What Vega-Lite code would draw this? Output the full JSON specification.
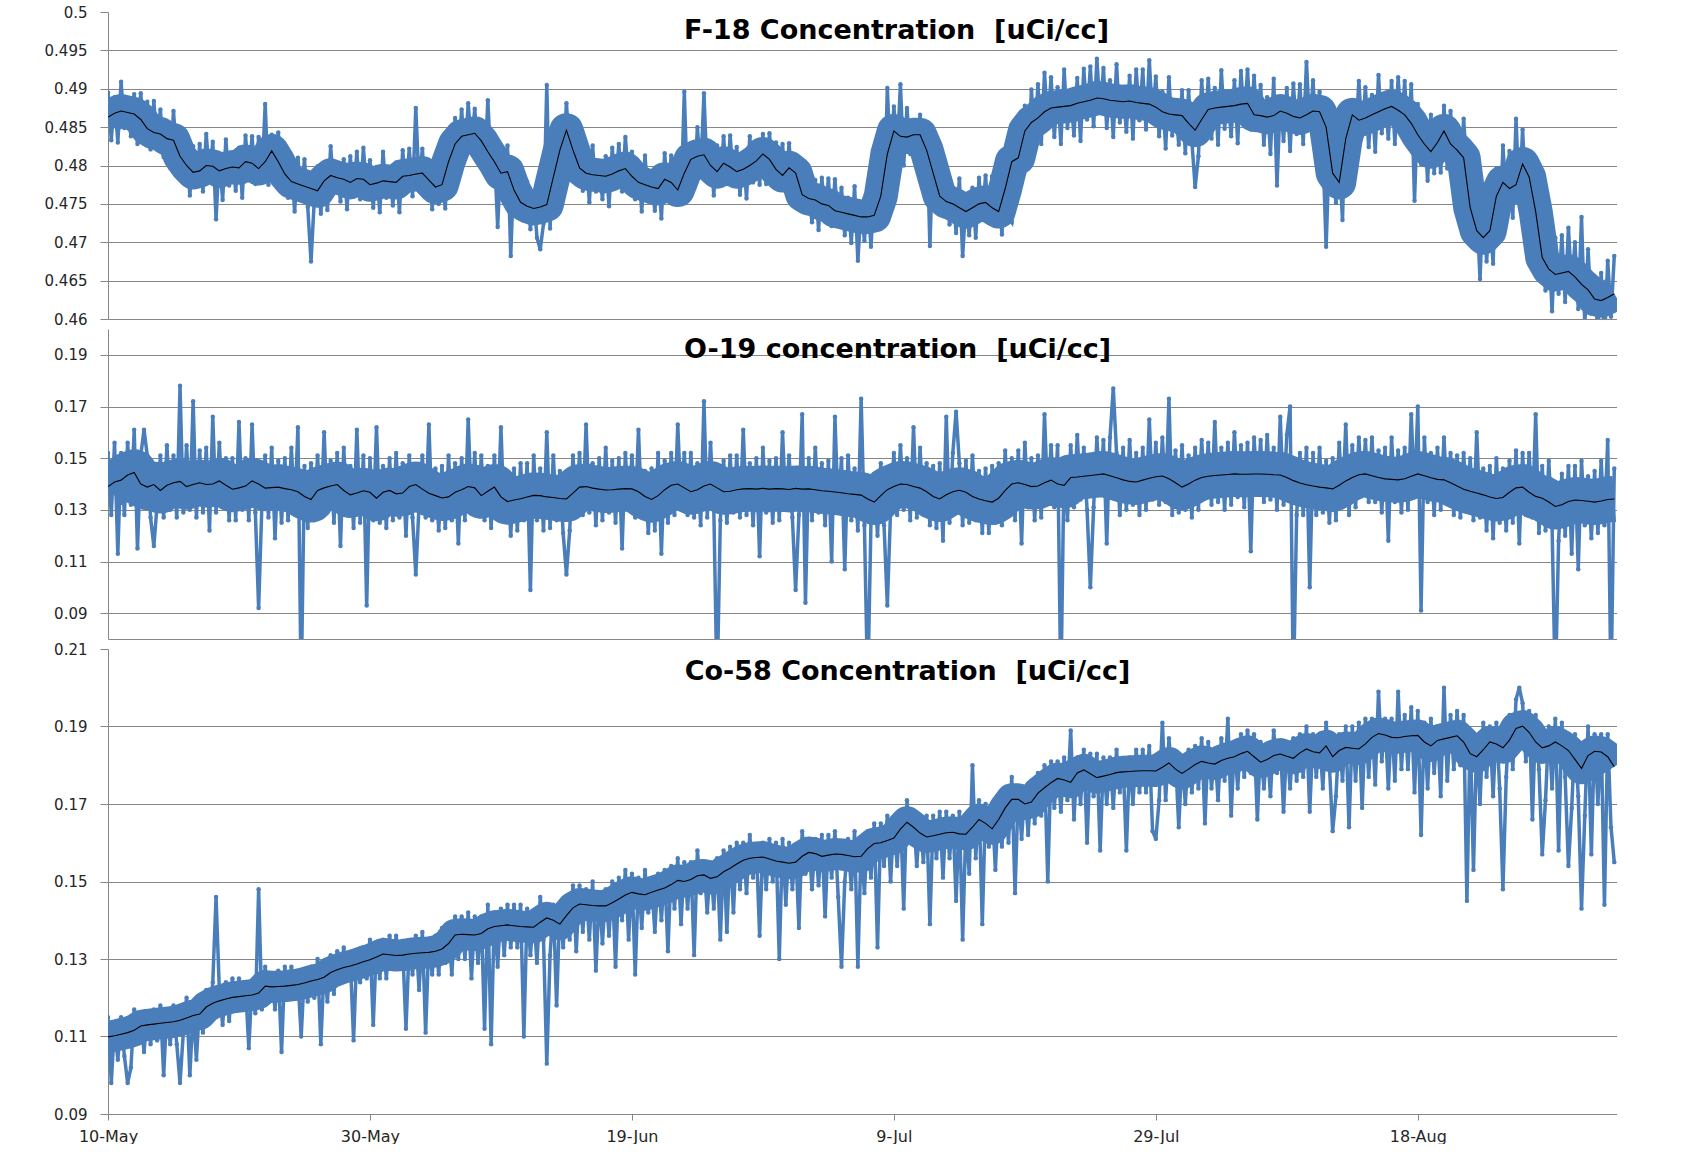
{
"$schema":"https://vega.github.io/schema/vega-lite/v6.json",
"background":"white",
"padding":{"left":44,"top":5,"right":0,"bottom":0},
"data":{"name":"d","format":{"parse":{"t":"date:'%Y-%m-%d %H'"}}},
"datasets":{"d":[
{"t":"2013-05-10 00","F":0.4895,"O":0.152,"C":0.115,"Fm":0.4863,"Om":0.139,"Cm":0.1099},
{"t":"2013-05-10 06","F":0.4833,"O":0.128,"C":0.098},
{"t":"2013-05-10 12","F":0.4889,"O":0.156,"C":0.113,"Fm":0.4868,"Om":0.1408,"Cm":0.1102},
{"t":"2013-05-10 18","F":0.483,"O":0.113,"C":0.104},
{"t":"2013-05-11 00","F":0.4909,"O":0.152,"C":0.115,"Fm":0.4871,"Om":0.1415,"Cm":0.1106},
{"t":"2013-05-11 06","F":0.4849,"O":0.128,"C":0.105},
{"t":"2013-05-11 12","F":0.4881,"O":0.156,"C":0.098,"Fm":0.4869,"Om":0.1435,"Cm":0.111},
{"t":"2013-05-11 18","F":0.4838,"O":0.132,"C":0.102},
{"t":"2013-05-12 00","F":0.4893,"O":0.161,"C":0.117,"Fm":0.4867,"Om":0.1445,"Cm":0.1116},
{"t":"2013-05-12 06","F":0.4828,"O":0.115,"C":0.109},
{"t":"2013-05-12 12","F":0.4894,"O":0.151,"C":0.115,"Fm":0.486,"Om":0.14,"Cm":0.1127},
{"t":"2013-05-12 18","F":0.4842,"O":0.161,"C":0.106},
{"t":"2013-05-13 00","F":0.4883,"O":0.151,"C":0.116,"Fm":0.4848,"Om":0.1388,"Cm":0.113},
{"t":"2013-05-13 06","F":0.4821,"O":0.127,"C":0.108},
{"t":"2013-05-13 12","F":0.4884,"O":0.116,"C":0.117,"Fm":0.4843,"Om":0.1398,"Cm":0.1132},
{"t":"2013-05-13 18","F":0.4828,"O":0.132,"C":0.109},
{"t":"2013-05-14 00","F":0.4873,"O":0.151,"C":0.118,"Fm":0.4841,"Om":0.1375,"Cm":0.1134},
{"t":"2013-05-14 06","F":0.4811,"O":0.127,"C":0.1},
{"t":"2013-05-14 12","F":0.4856,"O":0.155,"C":0.117,"Fm":0.4835,"Om":0.1395,"Cm":0.1136},
{"t":"2013-05-14 18","F":0.4797,"O":0.13,"C":0.108},
{"t":"2013-05-15 00","F":0.4871,"O":0.151,"C":0.118,"Fm":0.4833,"Om":0.1405,"Cm":0.1138},
{"t":"2013-05-15 06","F":0.4811,"O":0.127,"C":0.108},
{"t":"2013-05-15 12","F":0.4824,"O":0.178,"C":0.098,"Fm":0.4812,"Om":0.141,"Cm":0.1142},
{"t":"2013-05-15 18","F":0.4781,"O":0.129,"C":0.111},
{"t":"2013-05-16 00","F":0.4826,"O":0.155,"C":0.12,"Fm":0.48,"Om":0.139,"Cm":0.1148},
{"t":"2013-05-16 06","F":0.4761,"O":0.13,"C":0.1},
{"t":"2013-05-16 12","F":0.4825,"O":0.172,"C":0.117,"Fm":0.4791,"Om":0.1398,"Cm":0.1154},
{"t":"2013-05-16 18","F":0.4773,"O":0.127,"C":0.104},
{"t":"2013-05-17 00","F":0.4828,"O":0.153,"C":0.119,"Fm":0.4793,"Om":0.1405,"Cm":0.1158},
{"t":"2013-05-17 06","F":0.4766,"O":0.129,"C":0.111},
{"t":"2013-05-17 12","F":0.4841,"O":0.154,"C":0.122,"Fm":0.48,"Om":0.1398,"Cm":0.1176},
{"t":"2013-05-17 18","F":0.4785,"O":0.122,"C":0.114},
{"t":"2013-05-18 00","F":0.4831,"O":0.166,"C":0.124,"Fm":0.4799,"Om":0.14,"Cm":0.1186},
{"t":"2013-05-18 06","F":0.473,"O":0.129,"C":0.146},
{"t":"2013-05-18 12","F":0.4814,"O":0.156,"C":0.122,"Fm":0.4793,"Om":0.1412,"Cm":0.1192},
{"t":"2013-05-18 18","F":0.4755,"O":0.131,"C":0.113},
{"t":"2013-05-19 00","F":0.4834,"O":0.15,"C":0.124,"Fm":0.4796,"Om":0.1395,"Cm":0.1197},
{"t":"2013-05-19 06","F":0.4774,"O":0.126,"C":0.114},
{"t":"2013-05-19 12","F":0.481,"O":0.15,"C":0.125,"Fm":0.4798,"Om":0.138,"Cm":0.1201},
{"t":"2013-05-19 18","F":0.4767,"O":0.126,"C":0.117},
{"t":"2013-05-20 00","F":0.4823,"O":0.164,"C":0.125,"Fm":0.4797,"Om":0.1385,"Cm":0.1203},
{"t":"2013-05-20 06","F":0.4758,"O":0.13,"C":0.117},
{"t":"2013-05-20 12","F":0.4839,"O":0.15,"C":0.123,"Fm":0.4805,"Om":0.1392,"Cm":0.1205},
{"t":"2013-05-20 18","F":0.4787,"O":0.126,"C":0.107},
{"t":"2013-05-21 00","F":0.4838,"O":0.163,"C":0.124,"Fm":0.4803,"Om":0.1412,"Cm":0.1207},
{"t":"2013-05-21 06","F":0.4776,"O":0.129,"C":0.116},
{"t":"2013-05-21 12","F":0.4837,"O":0.092,"C":0.148,"Fm":0.4796,"Om":0.14,"Cm":0.1212},
{"t":"2013-05-21 18","F":0.4781,"O":0.132,"C":0.117},
{"t":"2013-05-22 00","F":0.488,"O":0.151,"C":0.128,"Fm":0.4805,"Om":0.1384,"Cm":0.123},
{"t":"2013-05-22 06","F":0.4775,"O":0.127,"C":0.119},
{"t":"2013-05-22 12","F":0.484,"O":0.154,"C":0.126,"Fm":0.4819,"Om":0.1386,"Cm":0.1228},
{"t":"2013-05-22 18","F":0.4781,"O":0.119,"C":0.117},
{"t":"2013-05-23 00","F":0.4843,"O":0.149,"C":0.127,"Fm":0.4805,"Om":0.1388,"Cm":0.1229},
{"t":"2013-05-23 06","F":0.4783,"O":0.125,"C":0.106},
{"t":"2013-05-23 12","F":0.4801,"O":0.15,"C":0.128,"Fm":0.4789,"Om":0.1382,"Cm":0.123},
{"t":"2013-05-23 18","F":0.4758,"O":0.126,"C":0.12},
{"t":"2013-05-24 00","F":0.4805,"O":0.154,"C":0.128,"Fm":0.4779,"Om":0.1378,"Cm":0.1232},
{"t":"2013-05-24 06","F":0.474,"O":0.129,"C":0.12},
{"t":"2013-05-24 12","F":0.481,"O":0.162,"C":0.125,"Fm":0.4776,"Om":0.137,"Cm":0.1234},
{"t":"2013-05-24 18","F":0.4758,"O":0.06,"C":0.11},
{"t":"2013-05-25 00","F":0.4808,"O":0.147,"C":0.127,"Fm":0.4773,"Om":0.1352,"Cm":0.1238},
{"t":"2013-05-25 06","F":0.4746,"O":0.123,"C":0.119},
{"t":"2013-05-25 12","F":0.4675,"O":0.148,"C":0.128,"Fm":0.477,"Om":0.134,"Cm":0.1243},
{"t":"2013-05-25 18","F":0.4755,"O":0.126,"C":0.12},
{"t":"2013-05-26 00","F":0.4799,"O":0.151,"C":0.13,"Fm":0.4767,"Om":0.1375,"Cm":0.1247},
{"t":"2013-05-26 06","F":0.4737,"O":0.127,"C":0.108},
{"t":"2013-05-26 12","F":0.4801,"O":0.16,"C":0.128,"Fm":0.478,"Om":0.1385,"Cm":0.1253},
{"t":"2013-05-26 18","F":0.4742,"O":0.129,"C":0.119},
{"t":"2013-05-27 00","F":0.4825,"O":0.149,"C":0.131,"Fm":0.4787,"Om":0.1392,"Cm":0.1265},
{"t":"2013-05-27 06","F":0.4765,"O":0.125,"C":0.121},
{"t":"2013-05-27 12","F":0.4796,"O":0.152,"C":0.132,"Fm":0.4784,"Om":0.1398,"Cm":0.1272},
{"t":"2013-05-27 18","F":0.4753,"O":0.116,"C":0.124},
{"t":"2013-05-28 00","F":0.4808,"O":0.154,"C":0.133,"Fm":0.4782,"Om":0.1375,"Cm":0.1278},
{"t":"2013-05-28 06","F":0.4743,"O":0.129,"C":0.125},
{"t":"2013-05-28 12","F":0.4812,"O":0.147,"C":0.13,"Fm":0.4778,"Om":0.1358,"Cm":0.1282},
{"t":"2013-05-28 18","F":0.476,"O":0.123,"C":0.109},
{"t":"2013-05-29 00","F":0.4818,"O":0.161,"C":0.132,"Fm":0.4783,"Om":0.1365,"Cm":0.1287},
{"t":"2013-05-29 06","F":0.4756,"O":0.125,"C":0.124},
{"t":"2013-05-29 12","F":0.4823,"O":0.151,"C":0.133,"Fm":0.4782,"Om":0.1374,"Cm":0.1293},
{"t":"2013-05-29 18","F":0.4767,"O":0.093,"C":0.125},
{"t":"2013-05-30 00","F":0.4807,"O":0.15,"C":0.135,"Fm":0.4775,"Om":0.1368,"Cm":0.1298},
{"t":"2013-05-30 06","F":0.4745,"O":0.126,"C":0.113},
{"t":"2013-05-30 12","F":0.4798,"O":0.162,"C":0.134,"Fm":0.4777,"Om":0.1345,"Cm":0.1305},
{"t":"2013-05-30 18","F":0.4739,"O":0.125,"C":0.125},
{"t":"2013-05-31 00","F":0.4818,"O":0.147,"C":0.135,"Fm":0.478,"Om":0.1368,"Cm":0.1313},
{"t":"2013-05-31 06","F":0.4758,"O":0.123,"C":0.125},
{"t":"2013-05-31 12","F":0.4791,"O":0.15,"C":0.136,"Fm":0.4779,"Om":0.1375,"Cm":0.1311},
{"t":"2013-05-31 18","F":0.4748,"O":0.126,"C":0.128},
{"t":"2013-06-01 00","F":0.4804,"O":0.152,"C":0.136,"Fm":0.4778,"Om":0.1362,"Cm":0.1309},
{"t":"2013-06-01 06","F":0.4739,"O":0.127,"C":0.128},
{"t":"2013-06-01 12","F":0.482,"O":0.148,"C":0.133,"Fm":0.4786,"Om":0.1365,"Cm":0.131},
{"t":"2013-06-01 18","F":0.4768,"O":0.12,"C":0.112},
{"t":"2013-06-02 00","F":0.4822,"O":0.151,"C":0.134,"Fm":0.4787,"Om":0.139,"Cm":0.1313},
{"t":"2013-06-02 06","F":0.476,"O":0.127,"C":0.126},
{"t":"2013-06-02 12","F":0.4875,"O":0.105,"C":0.136,"Fm":0.4789,"Om":0.1398,"Cm":0.1315},
{"t":"2013-06-02 18","F":0.4774,"O":0.132,"C":0.122},
{"t":"2013-06-03 00","F":0.4822,"O":0.151,"C":0.137,"Fm":0.479,"Om":0.138,"Cm":0.1316},
{"t":"2013-06-03 06","F":0.476,"O":0.127,"C":0.111},
{"t":"2013-06-03 12","F":0.4802,"O":0.163,"C":0.135,"Fm":0.4781,"Om":0.1364,"Cm":0.1317},
{"t":"2013-06-03 18","F":0.4743,"O":0.126,"C":0.126},
{"t":"2013-06-04 00","F":0.481,"O":0.146,"C":0.136,"Fm":0.4772,"Om":0.1355,"Cm":0.132},
{"t":"2013-06-04 06","F":0.475,"O":0.122,"C":0.126},
{"t":"2013-06-04 12","F":0.4787,"O":0.147,"C":0.138,"Fm":0.4775,"Om":0.1346,"Cm":0.1326},
{"t":"2013-06-04 18","F":0.4744,"O":0.123,"C":0.129},
{"t":"2013-06-05 00","F":0.4831,"O":0.151,"C":0.138,"Fm":0.4805,"Om":0.135,"Cm":0.134},
{"t":"2013-06-05 06","F":0.4766,"O":0.126,"C":0.126},
{"t":"2013-06-05 12","F":0.4862,"O":0.148,"C":0.141,"Fm":0.4828,"Om":0.1368,"Cm":0.1362},
{"t":"2013-06-05 18","F":0.481,"O":0.117,"C":0.13},
{"t":"2013-06-06 00","F":0.4873,"O":0.15,"C":0.141,"Fm":0.4838,"Om":0.1378,"Cm":0.1364},
{"t":"2013-06-06 06","F":0.4811,"O":0.126,"C":0.13},
{"t":"2013-06-06 12","F":0.4881,"O":0.165,"C":0.142,"Fm":0.484,"Om":0.139,"Cm":0.1363},
{"t":"2013-06-06 18","F":0.4825,"O":0.131,"C":0.125},
{"t":"2013-06-07 00","F":0.4874,"O":0.152,"C":0.141,"Fm":0.4842,"Om":0.1385,"Cm":0.1362},
{"t":"2013-06-07 06","F":0.4812,"O":0.128,"C":0.129},
{"t":"2013-06-07 12","F":0.4853,"O":0.151,"C":0.141,"Fm":0.4832,"Om":0.1355,"Cm":0.1366},
{"t":"2013-06-07 18","F":0.4794,"O":0.126,"C":0.112},
{"t":"2013-06-08 00","F":0.4885,"O":0.147,"C":0.144,"Fm":0.4818,"Om":0.1372,"Cm":0.1378},
{"t":"2013-06-08 06","F":0.4796,"O":0.123,"C":0.108},
{"t":"2013-06-08 12","F":0.4817,"O":0.151,"C":0.142,"Fm":0.4805,"Om":0.1388,"Cm":0.1384},
{"t":"2013-06-08 18","F":0.472,"O":0.127,"C":0.128},
{"t":"2013-06-09 00","F":0.4816,"O":0.162,"C":0.143,"Fm":0.479,"Om":0.135,"Cm":0.1386},
{"t":"2013-06-09 06","F":0.4751,"O":0.126,"C":0.131},
{"t":"2013-06-09 12","F":0.4826,"O":0.144,"C":0.144,"Fm":0.4792,"Om":0.1332,"Cm":0.1388},
{"t":"2013-06-09 18","F":0.4682,"O":0.12,"C":0.133},
{"t":"2013-06-10 00","F":0.4803,"O":0.146,"C":0.144,"Fm":0.4768,"Om":0.1338,"Cm":0.1386},
{"t":"2013-06-10 06","F":0.4741,"O":0.122,"C":0.133},
{"t":"2013-06-10 12","F":0.4793,"O":0.148,"C":0.144,"Fm":0.4752,"Om":0.1343,"Cm":0.1384},
{"t":"2013-06-10 18","F":0.4737,"O":0.126,"C":0.11},
{"t":"2013-06-11 00","F":0.4779,"O":0.148,"C":0.143,"Fm":0.4747,"Om":0.135,"Cm":0.1383},
{"t":"2013-06-11 06","F":0.4717,"O":0.099,"C":0.131},
{"t":"2013-06-11 12","F":0.4765,"O":0.151,"C":0.142,"Fm":0.4744,"Om":0.1356,"Cm":0.1382},
{"t":"2013-06-11 18","F":0.4706,"O":0.126,"C":0.129},
{"t":"2013-06-12 00","F":0.4691,"O":0.146,"C":0.146,"Fm":0.4746,"Om":0.1355,"Cm":0.1395},
{"t":"2013-06-12 06","F":0.4724,"O":0.122,"C":0.135},
{"t":"2013-06-12 12","F":0.4905,"O":0.16,"C":0.103,"Fm":0.4749,"Om":0.135,"Cm":0.1406},
{"t":"2013-06-12 18","F":0.4718,"O":0.123,"C":0.131},
{"t":"2013-06-13 00","F":0.4811,"O":0.151,"C":0.144,"Fm":0.4785,"Om":0.1348,"Cm":0.14},
{"t":"2013-06-13 06","F":0.4746,"O":0.126,"C":0.118},
{"t":"2013-06-13 12","F":0.4854,"O":0.145,"C":0.144,"Fm":0.482,"Om":0.1344,"Cm":0.139},
{"t":"2013-06-13 18","F":0.4802,"O":0.121,"C":0.133},
{"t":"2013-06-14 00","F":0.4881,"O":0.105,"C":0.146,"Fm":0.4846,"Om":0.1342,"Cm":0.1412},
{"t":"2013-06-14 06","F":0.4819,"O":0.122,"C":0.135},
{"t":"2013-06-14 12","F":0.4861,"O":0.151,"C":0.149,"Fm":0.482,"Om":0.1365,"Cm":0.1432},
{"t":"2013-06-14 18","F":0.4805,"O":0.129,"C":0.132},
{"t":"2013-06-15 00","F":0.4829,"O":0.152,"C":0.149,"Fm":0.4797,"Om":0.1388,"Cm":0.1442},
{"t":"2013-06-15 06","F":0.4767,"O":0.128,"C":0.137},
{"t":"2013-06-15 12","F":0.4811,"O":0.163,"C":0.148,"Fm":0.479,"Om":0.139,"Cm":0.144},
{"t":"2013-06-15 18","F":0.4752,"O":0.129,"C":0.135},
{"t":"2013-06-16 00","F":0.4826,"O":0.148,"C":0.15,"Fm":0.4788,"Om":0.1384,"Cm":0.1438},
{"t":"2013-06-16 06","F":0.4766,"O":0.124,"C":0.127},
{"t":"2013-06-16 12","F":0.4799,"O":0.15,"C":0.147,"Fm":0.4787,"Om":0.138,"Cm":0.1437},
{"t":"2013-06-16 18","F":0.4756,"O":0.126,"C":0.134},
{"t":"2013-06-17 00","F":0.4812,"O":0.154,"C":0.148,"Fm":0.4786,"Om":0.1377,"Cm":0.1437},
{"t":"2013-06-17 06","F":0.4747,"O":0.129,"C":0.136},
{"t":"2013-06-17 12","F":0.4823,"O":0.149,"C":0.15,"Fm":0.4789,"Om":0.1378,"Cm":0.1445},
{"t":"2013-06-17 18","F":0.4771,"O":0.125,"C":0.128},
{"t":"2013-06-18 00","F":0.4828,"O":0.15,"C":0.151,"Fm":0.4793,"Om":0.138,"Cm":0.1455},
{"t":"2013-06-18 06","F":0.4766,"O":0.115,"C":0.14},
{"t":"2013-06-18 12","F":0.4837,"O":0.152,"C":0.153,"Fm":0.4796,"Om":0.1382,"Cm":0.1465},
{"t":"2013-06-18 18","F":0.4781,"O":0.13,"C":0.135},
{"t":"2013-06-19 00","F":0.4818,"O":0.151,"C":0.152,"Fm":0.4786,"Om":0.1381,"Cm":0.1472},
{"t":"2013-06-19 06","F":0.4756,"O":0.127,"C":0.126},
{"t":"2013-06-19 12","F":0.4799,"O":0.161,"C":0.151,"Fm":0.4778,"Om":0.137,"Cm":0.1468},
{"t":"2013-06-19 18","F":0.474,"O":0.127,"C":0.138},
{"t":"2013-06-20 00","F":0.4813,"O":0.145,"C":0.153,"Fm":0.4775,"Om":0.1352,"Cm":0.1466},
{"t":"2013-06-20 06","F":0.4753,"O":0.121,"C":0.142},
{"t":"2013-06-20 12","F":0.4784,"O":0.146,"C":0.15,"Fm":0.4772,"Om":0.134,"Cm":0.1472},
{"t":"2013-06-20 18","F":0.4741,"O":0.122,"C":0.137},
{"t":"2013-06-21 00","F":0.4796,"O":0.152,"C":0.152,"Fm":0.477,"Om":0.1355,"Cm":0.1478},
{"t":"2013-06-21 06","F":0.4731,"O":0.113,"C":0.14},
{"t":"2013-06-21 12","F":0.4816,"O":0.149,"C":0.153,"Fm":0.4782,"Om":0.1378,"Cm":0.1483},
{"t":"2013-06-21 18","F":0.4764,"O":0.125,"C":0.132},
{"t":"2013-06-22 00","F":0.4813,"O":0.152,"C":0.154,"Fm":0.4778,"Om":0.1395,"Cm":0.1492},
{"t":"2013-06-22 06","F":0.4751,"O":0.128,"C":0.143},
{"t":"2013-06-22 12","F":0.4809,"O":0.163,"C":0.156,"Fm":0.4768,"Om":0.14,"Cm":0.1503},
{"t":"2013-06-22 18","F":0.4753,"O":0.132,"C":0.139},
{"t":"2013-06-23 00","F":0.4896,"O":0.152,"C":0.155,"Fm":0.479,"Om":0.1385,"Cm":0.15},
{"t":"2013-06-23 06","F":0.476,"O":0.128,"C":0.143},
{"t":"2013-06-23 12","F":0.4829,"O":0.152,"C":0.155,"Fm":0.4808,"Om":0.137,"Cm":0.1505},
{"t":"2013-06-23 18","F":0.477,"O":0.127,"C":0.131},
{"t":"2013-06-24 00","F":0.485,"O":0.148,"C":0.158,"Fm":0.4812,"Om":0.1378,"Cm":0.1515},
{"t":"2013-06-24 06","F":0.479,"O":0.124,"C":0.147},
{"t":"2013-06-24 12","F":0.4894,"O":0.172,"C":0.155,"Fm":0.4814,"Om":0.1392,"Cm":0.1517},
{"t":"2013-06-24 18","F":0.4783,"O":0.127,"C":0.142},
{"t":"2013-06-25 00","F":0.4826,"O":0.156,"C":0.155,"Fm":0.48,"Om":0.14,"Cm":0.1508},
{"t":"2013-06-25 06","F":0.4761,"O":0.131,"C":0.143},
{"t":"2013-06-25 12","F":0.4826,"O":0.06,"C":0.156,"Fm":0.4792,"Om":0.1385,"Cm":0.1512},
{"t":"2013-06-25 18","F":0.4774,"O":0.126,"C":0.135},
{"t":"2013-06-26 00","F":0.4838,"O":0.149,"C":0.158,"Fm":0.4803,"Om":0.137,"Cm":0.1525},
{"t":"2013-06-26 06","F":0.4776,"O":0.125,"C":0.137},
{"t":"2013-06-26 12","F":0.4839,"O":0.151,"C":0.159,"Fm":0.4798,"Om":0.1372,"Cm":0.1534},
{"t":"2013-06-26 18","F":0.4783,"O":0.129,"C":0.142},
{"t":"2013-06-27 00","F":0.4824,"O":0.151,"C":0.16,"Fm":0.4792,"Om":0.1378,"Cm":0.1545},
{"t":"2013-06-27 06","F":0.4762,"O":0.127,"C":0.148},
{"t":"2013-06-27 12","F":0.4816,"O":0.161,"C":0.16,"Fm":0.4795,"Om":0.1381,"Cm":0.1555},
{"t":"2013-06-27 18","F":0.4757,"O":0.128,"C":0.147},
{"t":"2013-06-28 00","F":0.4838,"O":0.148,"C":0.162,"Fm":0.48,"Om":0.1382,"Cm":0.156},
{"t":"2013-06-28 06","F":0.4778,"O":0.124,"C":0.151},
{"t":"2013-06-28 12","F":0.4818,"O":0.15,"C":0.159,"Fm":0.4806,"Om":0.138,"Cm":0.1562},
{"t":"2013-06-28 18","F":0.4775,"O":0.112,"C":0.136},
{"t":"2013-06-29 00","F":0.4841,"O":0.154,"C":0.16,"Fm":0.4815,"Om":0.1383,"Cm":0.1563},
{"t":"2013-06-29 06","F":0.4776,"O":0.129,"C":0.148},
{"t":"2013-06-29 12","F":0.4842,"O":0.149,"C":0.161,"Fm":0.4808,"Om":0.138,"Cm":0.1558},
{"t":"2013-06-29 18","F":0.479,"O":0.125,"C":0.15},
{"t":"2013-06-30 00","F":0.483,"O":0.15,"C":0.16,"Fm":0.4795,"Om":0.1382,"Cm":0.1553},
{"t":"2013-06-30 06","F":0.4768,"O":0.126,"C":0.13},
{"t":"2013-06-30 12","F":0.4828,"O":0.16,"C":0.161,"Fm":0.4787,"Om":0.1381,"Cm":0.155},
{"t":"2013-06-30 18","F":0.4772,"O":0.13,"C":0.144},
{"t":"2013-07-01 00","F":0.4829,"O":0.151,"C":0.16,"Fm":0.4797,"Om":0.1379,"Cm":0.1547},
{"t":"2013-07-01 06","F":0.4767,"O":0.127,"C":0.148},
{"t":"2013-07-01 12","F":0.4811,"O":0.099,"C":0.159,"Fm":0.479,"Om":0.1383,"Cm":0.155},
{"t":"2013-07-01 18","F":0.4752,"O":0.128,"C":0.138},
{"t":"2013-07-02 00","F":0.48,"O":0.167,"C":0.163,"Fm":0.4762,"Om":0.138,"Cm":0.1565},
{"t":"2013-07-02 06","F":0.474,"O":0.094,"C":0.152},
{"t":"2013-07-02 12","F":0.4769,"O":0.15,"C":0.161,"Fm":0.4757,"Om":0.1381,"Cm":0.1575},
{"t":"2013-07-02 18","F":0.4726,"O":0.126,"C":0.148},
{"t":"2013-07-03 00","F":0.4781,"O":0.154,"C":0.161,"Fm":0.4755,"Om":0.1378,"Cm":0.1572},
{"t":"2013-07-03 06","F":0.4716,"O":0.129,"C":0.149},
{"t":"2013-07-03 12","F":0.4784,"O":0.148,"C":0.162,"Fm":0.475,"Om":0.1374,"Cm":0.1565},
{"t":"2013-07-03 18","F":0.4732,"O":0.124,"C":0.141},
{"t":"2013-07-04 00","F":0.4783,"O":0.149,"C":0.162,"Fm":0.4748,"Om":0.1372,"Cm":0.1568},
{"t":"2013-07-04 06","F":0.4721,"O":0.11,"C":0.151},
{"t":"2013-07-04 12","F":0.4782,"O":0.166,"C":0.163,"Fm":0.4741,"Om":0.1369,"Cm":0.1571},
{"t":"2013-07-04 18","F":0.4726,"O":0.129,"C":0.146},
{"t":"2013-07-05 00","F":0.4771,"O":0.15,"C":0.128,"Fm":0.4739,"Om":0.1366,"Cm":0.157},
{"t":"2013-07-05 06","F":0.4709,"O":0.107,"C":0.15},
{"t":"2013-07-05 12","F":0.4758,"O":0.151,"C":0.161,"Fm":0.4737,"Om":0.1362,"Cm":0.1567},
{"t":"2013-07-05 18","F":0.4699,"O":0.126,"C":0.148},
{"t":"2013-07-06 00","F":0.4773,"O":0.146,"C":0.163,"Fm":0.4735,"Om":0.136,"Cm":0.1564},
{"t":"2013-07-06 06","F":0.4676,"O":0.122,"C":0.128},
{"t":"2013-07-06 12","F":0.4745,"O":0.173,"C":0.16,"Fm":0.4733,"Om":0.1357,"Cm":0.1565},
{"t":"2013-07-06 18","F":0.4702,"O":0.124,"C":0.147},
{"t":"2013-07-07 00","F":0.4759,"O":0.06,"C":0.163,"Fm":0.4733,"Om":0.1342,"Cm":0.1585},
{"t":"2013-07-07 06","F":0.4694,"O":0.125,"C":0.151},
{"t":"2013-07-07 12","F":0.4769,"O":0.144,"C":0.165,"Fm":0.4735,"Om":0.133,"Cm":0.1598},
{"t":"2013-07-07 18","F":0.4717,"O":0.12,"C":0.133},
{"t":"2013-07-08 00","F":0.4795,"O":0.148,"C":0.165,"Fm":0.476,"Om":0.1355,"Cm":0.16},
{"t":"2013-07-08 06","F":0.4733,"O":0.124,"C":0.154},
{"t":"2013-07-08 12","F":0.4901,"O":0.093,"C":0.167,"Fm":0.4815,"Om":0.1378,"Cm":0.1606},
{"t":"2013-07-08 18","F":0.48,"O":0.13,"C":0.15},
{"t":"2013-07-09 00","F":0.4877,"O":0.152,"C":0.166,"Fm":0.4845,"Om":0.139,"Cm":0.1612},
{"t":"2013-07-09 06","F":0.4815,"O":0.128,"C":0.154},
{"t":"2013-07-09 12","F":0.4906,"O":0.155,"C":0.168,"Fm":0.4838,"Om":0.14,"Cm":0.1635},
{"t":"2013-07-09 18","F":0.48,"O":0.13,"C":0.143},
{"t":"2013-07-10 00","F":0.4875,"O":0.15,"C":0.171,"Fm":0.4837,"Om":0.1398,"Cm":0.1653},
{"t":"2013-07-10 06","F":0.4815,"O":0.126,"C":0.16},
{"t":"2013-07-10 12","F":0.4852,"O":0.162,"C":0.167,"Fm":0.484,"Om":0.139,"Cm":0.164},
{"t":"2013-07-10 18","F":0.4809,"O":0.127,"C":0.154},
{"t":"2013-07-11 00","F":0.4866,"O":0.154,"C":0.167,"Fm":0.484,"Om":0.1384,"Cm":0.1625},
{"t":"2013-07-11 06","F":0.4801,"O":0.129,"C":0.155},
{"t":"2013-07-11 12","F":0.4854,"O":0.148,"C":0.167,"Fm":0.482,"Om":0.137,"Cm":0.1615},
{"t":"2013-07-11 18","F":0.4695,"O":0.124,"C":0.139},
{"t":"2013-07-12 00","F":0.4825,"O":0.147,"C":0.167,"Fm":0.479,"Om":0.1352,"Cm":0.1618},
{"t":"2013-07-12 06","F":0.4763,"O":0.123,"C":0.156},
{"t":"2013-07-12 12","F":0.4801,"O":0.148,"C":0.168,"Fm":0.476,"Om":0.1342,"Cm":0.1622},
{"t":"2013-07-12 18","F":0.4745,"O":0.118,"C":0.151},
{"t":"2013-07-13 00","F":0.4785,"O":0.166,"C":0.168,"Fm":0.4753,"Om":0.1358,"Cm":0.1626},
{"t":"2013-07-13 06","F":0.4723,"O":0.125,"C":0.156},
{"t":"2013-07-13 12","F":0.4771,"O":0.152,"C":0.167,"Fm":0.475,"Om":0.137,"Cm":0.1627},
{"t":"2013-07-13 18","F":0.4712,"O":0.168,"C":0.145},
{"t":"2013-07-14 00","F":0.4783,"O":0.148,"C":0.168,"Fm":0.4745,"Om":0.1376,"Cm":0.1623},
{"t":"2013-07-14 06","F":0.4682,"O":0.124,"C":0.135},
{"t":"2013-07-14 12","F":0.4752,"O":0.149,"C":0.165,"Fm":0.474,"Om":0.1368,"Cm":0.1622},
{"t":"2013-07-14 18","F":0.4709,"O":0.125,"C":0.152},
{"t":"2013-07-15 00","F":0.4771,"O":0.151,"C":0.18,"Fm":0.4745,"Om":0.1352,"Cm":0.164},
{"t":"2013-07-15 06","F":0.4706,"O":0.126,"C":0.156},
{"t":"2013-07-15 12","F":0.4784,"O":0.145,"C":0.171,"Fm":0.475,"Om":0.1342,"Cm":0.166},
{"t":"2013-07-15 18","F":0.4732,"O":0.121,"C":0.139},
{"t":"2013-07-16 00","F":0.4787,"O":0.146,"C":0.17,"Fm":0.4752,"Om":0.1335,"Cm":0.165},
{"t":"2013-07-16 06","F":0.4725,"O":0.121,"C":0.159},
{"t":"2013-07-16 12","F":0.4786,"O":0.147,"C":0.17,"Fm":0.4745,"Om":0.133,"Cm":0.1636},
{"t":"2013-07-16 18","F":0.473,"O":0.125,"C":0.153},
{"t":"2013-07-17 00","F":0.4772,"O":0.148,"C":0.171,"Fm":0.474,"Om":0.1345,"Cm":0.166},
{"t":"2013-07-17 06","F":0.471,"O":0.124,"C":0.159},
{"t":"2013-07-17 12","F":0.4791,"O":0.153,"C":0.173,"Fm":0.477,"Om":0.1375,"Cm":0.169},
{"t":"2013-07-17 18","F":0.4732,"O":0.128,"C":0.16},
{"t":"2013-07-18 00","F":0.4726,"O":0.15,"C":0.177,"Fm":0.4805,"Om":0.14,"Cm":0.1712},
{"t":"2013-07-18 06","F":0.4783,"O":0.126,"C":0.147},
{"t":"2013-07-18 12","F":0.4822,"O":0.153,"C":0.174,"Fm":0.481,"Om":0.1405,"Cm":0.1712},
{"t":"2013-07-18 18","F":0.4779,"O":0.117,"C":0.161},
{"t":"2013-07-19 00","F":0.4878,"O":0.156,"C":0.174,"Fm":0.4845,"Om":0.1398,"Cm":0.17},
{"t":"2013-07-19 06","F":0.4796,"O":0.131,"C":0.162},
{"t":"2013-07-19 12","F":0.4899,"O":0.15,"C":0.176,"Fm":0.4856,"Om":0.139,"Cm":0.1705},
{"t":"2013-07-19 18","F":0.4833,"O":0.126,"C":0.165},
{"t":"2013-07-20 00","F":0.4906,"O":0.151,"C":0.178,"Fm":0.4862,"Om":0.1392,"Cm":0.1728},
{"t":"2013-07-20 06","F":0.4828,"O":0.127,"C":0.167},
{"t":"2013-07-20 12","F":0.4921,"O":0.167,"C":0.18,"Fm":0.487,"Om":0.1405,"Cm":0.1742},
{"t":"2013-07-20 18","F":0.4851,"O":0.133,"C":0.15},
{"t":"2013-07-21 00","F":0.4915,"O":0.155,"C":0.181,"Fm":0.4875,"Om":0.1415,"Cm":0.1755},
{"t":"2013-07-21 06","F":0.4837,"O":0.131,"C":0.169},
{"t":"2013-07-21 12","F":0.4902,"O":0.155,"C":0.181,"Fm":0.4876,"Om":0.14,"Cm":0.1766},
{"t":"2013-07-21 18","F":0.4828,"O":0.06,"C":0.168},
{"t":"2013-07-22 00","F":0.4925,"O":0.15,"C":0.182,"Fm":0.4877,"Om":0.1395,"Cm":0.1762},
{"t":"2013-07-22 06","F":0.4849,"O":0.126,"C":0.171},
{"t":"2013-07-22 12","F":0.4893,"O":0.155,"C":0.189,"Fm":0.4878,"Om":0.1425,"Cm":0.1756},
{"t":"2013-07-22 18","F":0.4839,"O":0.131,"C":0.166},
{"t":"2013-07-23 00","F":0.4914,"O":0.159,"C":0.182,"Fm":0.4881,"Om":0.1427,"Cm":0.178},
{"t":"2013-07-23 06","F":0.4832,"O":0.134,"C":0.17},
{"t":"2013-07-23 12","F":0.4926,"O":0.154,"C":0.184,"Fm":0.4883,"Om":0.143,"Cm":0.1788},
{"t":"2013-07-23 18","F":0.486,"O":0.13,"C":0.16},
{"t":"2013-07-24 00","F":0.4929,"O":0.1,"C":0.183,"Fm":0.4885,"Om":0.1433,"Cm":0.1778},
{"t":"2013-07-24 06","F":0.4851,"O":0.131,"C":0.172},
{"t":"2013-07-24 12","F":0.4939,"O":0.158,"C":0.183,"Fm":0.4888,"Om":0.1436,"Cm":0.1768},
{"t":"2013-07-24 18","F":0.4869,"O":0.136,"C":0.158},
{"t":"2013-07-25 00","F":0.4927,"O":0.157,"C":0.182,"Fm":0.4887,"Om":0.1439,"Cm":0.1772},
{"t":"2013-07-25 06","F":0.4849,"O":0.117,"C":0.17},
{"t":"2013-07-25 12","F":0.4911,"O":0.158,"C":0.182,"Fm":0.4885,"Om":0.1432,"Cm":0.1776},
{"t":"2013-07-25 18","F":0.4837,"O":0.177,"C":0.169},
{"t":"2013-07-26 00","F":0.4932,"O":0.152,"C":0.184,"Fm":0.4884,"Om":0.1424,"Cm":0.1781},
{"t":"2013-07-26 06","F":0.4856,"O":0.128,"C":0.173},
{"t":"2013-07-26 12","F":0.4898,"O":0.154,"C":0.181,"Fm":0.4883,"Om":0.1416,"Cm":0.1783},
{"t":"2013-07-26 18","F":0.4844,"O":0.13,"C":0.158},
{"t":"2013-07-27 00","F":0.4917,"O":0.157,"C":0.182,"Fm":0.4884,"Om":0.141,"Cm":0.1784},
{"t":"2013-07-27 06","F":0.4835,"O":0.132,"C":0.17},
{"t":"2013-07-27 12","F":0.4925,"O":0.152,"C":0.184,"Fm":0.4882,"Om":0.1408,"Cm":0.1785},
{"t":"2013-07-27 18","F":0.4859,"O":0.128,"C":0.173},
{"t":"2013-07-28 00","F":0.4925,"O":0.154,"C":0.184,"Fm":0.4881,"Om":0.1415,"Cm":0.1786},
{"t":"2013-07-28 06","F":0.4847,"O":0.13,"C":0.173},
{"t":"2013-07-28 12","F":0.4937,"O":0.165,"C":0.185,"Fm":0.488,"Om":0.1422,"Cm":0.1786},
{"t":"2013-07-28 18","F":0.4861,"O":0.134,"C":0.163},
{"t":"2013-07-29 00","F":0.4916,"O":0.156,"C":0.161,"Fm":0.4876,"Om":0.1428,"Cm":0.1785},
{"t":"2013-07-29 06","F":0.4838,"O":0.132,"C":0.171},
{"t":"2013-07-29 12","F":0.4896,"O":0.158,"C":0.191,"Fm":0.487,"Om":0.1431,"Cm":0.1795},
{"t":"2013-07-29 18","F":0.4822,"O":0.133,"C":0.171},
{"t":"2013-07-30 00","F":0.4915,"O":0.173,"C":0.187,"Fm":0.4867,"Om":0.142,"Cm":0.1806},
{"t":"2013-07-30 06","F":0.4839,"O":0.128,"C":0.176},
{"t":"2013-07-30 12","F":0.4881,"O":0.153,"C":0.182,"Fm":0.4866,"Om":0.1405,"Cm":0.179},
{"t":"2013-07-30 18","F":0.4827,"O":0.129,"C":0.164},
{"t":"2013-07-31 00","F":0.4898,"O":0.155,"C":0.182,"Fm":0.4865,"Om":0.1388,"Cm":0.1779},
{"t":"2013-07-31 06","F":0.4816,"O":0.13,"C":0.17},
{"t":"2013-07-31 12","F":0.4898,"O":0.151,"C":0.184,"Fm":0.4855,"Om":0.14,"Cm":0.179},
{"t":"2013-07-31 18","F":0.4832,"O":0.127,"C":0.173},
{"t":"2013-08-01 00","F":0.4772,"O":0.154,"C":0.185,"Fm":0.4846,"Om":0.1415,"Cm":0.1802},
{"t":"2013-08-01 06","F":0.4812,"O":0.13,"C":0.174},
{"t":"2013-08-01 12","F":0.4911,"O":0.157,"C":0.187,"Fm":0.486,"Om":0.1425,"Cm":0.181},
{"t":"2013-08-01 18","F":0.4841,"O":0.135,"C":0.165},
{"t":"2013-08-02 00","F":0.4913,"O":0.156,"C":0.186,"Fm":0.4873,"Om":0.143,"Cm":0.1806},
{"t":"2013-08-02 06","F":0.4835,"O":0.132,"C":0.174},
{"t":"2013-08-02 12","F":0.4901,"O":0.164,"C":0.184,"Fm":0.4875,"Om":0.1433,"Cm":0.1803},
{"t":"2013-08-02 18","F":0.4827,"O":0.133,"C":0.171},
{"t":"2013-08-03 00","F":0.4924,"O":0.154,"C":0.187,"Fm":0.4876,"Om":0.1435,"Cm":0.1812},
{"t":"2013-08-03 06","F":0.4848,"O":0.13,"C":0.176},
{"t":"2013-08-03 12","F":0.4892,"O":0.156,"C":0.192,"Fm":0.4877,"Om":0.1437,"Cm":0.1818},
{"t":"2013-08-03 18","F":0.4838,"O":0.132,"C":0.167},
{"t":"2013-08-04 00","F":0.4911,"O":0.16,"C":0.186,"Fm":0.4878,"Om":0.1439,"Cm":0.1822},
{"t":"2013-08-04 06","F":0.4829,"O":0.135,"C":0.174},
{"t":"2013-08-04 12","F":0.4923,"O":0.155,"C":0.188,"Fm":0.488,"Om":0.1438,"Cm":0.183},
{"t":"2013-08-04 18","F":0.4857,"O":0.131,"C":0.177},
{"t":"2013-08-05 00","F":0.4925,"O":0.156,"C":0.189,"Fm":0.4881,"Om":0.1438,"Cm":0.1836},
{"t":"2013-08-05 06","F":0.4847,"O":0.114,"C":0.178},
{"t":"2013-08-05 12","F":0.4917,"O":0.158,"C":0.188,"Fm":0.4866,"Om":0.1439,"Cm":0.1822},
{"t":"2013-08-05 18","F":0.4847,"O":0.136,"C":0.166},
{"t":"2013-08-06 00","F":0.4905,"O":0.157,"C":0.186,"Fm":0.4865,"Om":0.1439,"Cm":0.1808},
{"t":"2013-08-06 06","F":0.4827,"O":0.133,"C":0.174},
{"t":"2013-08-06 12","F":0.4889,"O":0.159,"C":0.185,"Fm":0.4863,"Om":0.1438,"Cm":0.1815},
{"t":"2013-08-06 18","F":0.4815,"O":0.134,"C":0.172},
{"t":"2013-08-07 00","F":0.4913,"O":0.154,"C":0.189,"Fm":0.4865,"Om":0.1436,"Cm":0.1825},
{"t":"2013-08-07 06","F":0.4774,"O":0.13,"C":0.178},
{"t":"2013-08-07 12","F":0.4886,"O":0.166,"C":0.186,"Fm":0.4871,"Om":0.1435,"Cm":0.1829},
{"t":"2013-08-07 18","F":0.4832,"O":0.132,"C":0.168},
{"t":"2013-08-08 00","F":0.4901,"O":0.159,"C":0.186,"Fm":0.4868,"Om":0.1425,"Cm":0.1823},
{"t":"2013-08-08 06","F":0.4819,"O":0.17,"C":0.174},
{"t":"2013-08-08 12","F":0.4907,"O":0.06,"C":0.187,"Fm":0.4864,"Om":0.1413,"Cm":0.1818},
{"t":"2013-08-08 18","F":0.4841,"O":0.128,"C":0.176},
{"t":"2013-08-09 00","F":0.4906,"O":0.152,"C":0.188,"Fm":0.4862,"Om":0.1404,"Cm":0.1832},
{"t":"2013-08-09 06","F":0.4828,"O":0.128,"C":0.177},
{"t":"2013-08-09 12","F":0.4935,"O":0.154,"C":0.19,"Fm":0.4866,"Om":0.1397,"Cm":0.1842},
{"t":"2013-08-09 18","F":0.4847,"O":0.1,"C":0.168},
{"t":"2013-08-10 00","F":0.4911,"O":0.152,"C":0.188,"Fm":0.4871,"Om":0.1392,"Cm":0.1835},
{"t":"2013-08-10 06","F":0.4833,"O":0.128,"C":0.177},
{"t":"2013-08-10 12","F":0.4896,"O":0.154,"C":0.187,"Fm":0.487,"Om":0.1388,"Cm":0.1832},
{"t":"2013-08-10 18","F":0.4822,"O":0.129,"C":0.174},
{"t":"2013-08-11 00","F":0.4694,"O":0.149,"C":0.191,"Fm":0.485,"Om":0.1385,"Cm":0.185},
{"t":"2013-08-11 06","F":0.4822,"O":0.125,"C":0.18},
{"t":"2013-08-11 12","F":0.4805,"O":0.15,"C":0.163,"Fm":0.479,"Om":0.1381,"Cm":0.1822},
{"t":"2013-08-11 18","F":0.4751,"O":0.126,"C":0.172},
{"t":"2013-08-12 00","F":0.4811,"O":0.156,"C":0.188,"Fm":0.4778,"Om":0.1395,"Cm":0.1838},
{"t":"2013-08-12 06","F":0.4729,"O":0.131,"C":0.176},
{"t":"2013-08-12 12","F":0.4878,"O":0.163,"C":0.19,"Fm":0.4835,"Om":0.1412,"Cm":0.1846},
{"t":"2013-08-12 18","F":0.4812,"O":0.128,"C":0.164},
{"t":"2013-08-13 00","F":0.4772,"O":0.155,"C":0.19,"Fm":0.4866,"Om":0.1425,"Cm":0.1844},
{"t":"2013-08-13 06","F":0.4832,"O":0.131,"C":0.176},
{"t":"2013-08-13 12","F":0.491,"O":0.158,"C":0.191,"Fm":0.4859,"Om":0.1436,"Cm":0.1842},
{"t":"2013-08-13 18","F":0.484,"O":0.136,"C":0.169},
{"t":"2013-08-14 00","F":0.4902,"O":0.157,"C":0.192,"Fm":0.4862,"Om":0.1439,"Cm":0.1855},
{"t":"2013-08-14 06","F":0.4824,"O":0.133,"C":0.177},
{"t":"2013-08-14 12","F":0.4892,"O":0.158,"C":0.192,"Fm":0.4866,"Om":0.1432,"Cm":0.1872},
{"t":"2013-08-14 18","F":0.4818,"O":0.133,"C":0.175},
{"t":"2013-08-15 00","F":0.4918,"O":0.153,"C":0.199,"Fm":0.487,"Om":0.1425,"Cm":0.1882},
{"t":"2013-08-15 06","F":0.4842,"O":0.129,"C":0.181},
{"t":"2013-08-15 12","F":0.4889,"O":0.154,"C":0.192,"Fm":0.4874,"Om":0.142,"Cm":0.1878},
{"t":"2013-08-15 18","F":0.4835,"O":0.118,"C":0.174},
{"t":"2013-08-16 00","F":0.491,"O":0.158,"C":0.192,"Fm":0.4877,"Om":0.1418,"Cm":0.1872},
{"t":"2013-08-16 06","F":0.4828,"O":0.133,"C":0.176},
{"t":"2013-08-16 12","F":0.4915,"O":0.153,"C":0.199,"Fm":0.4872,"Om":0.1416,"Cm":0.1871},
{"t":"2013-08-16 18","F":0.4849,"O":0.129,"C":0.179},
{"t":"2013-08-17 00","F":0.491,"O":0.154,"C":0.193,"Fm":0.4866,"Om":0.142,"Cm":0.1874},
{"t":"2013-08-17 06","F":0.4832,"O":0.13,"C":0.179},
{"t":"2013-08-17 12","F":0.4906,"O":0.167,"C":0.195,"Fm":0.4855,"Om":0.143,"Cm":0.1876},
{"t":"2013-08-17 18","F":0.4754,"O":0.135,"C":0.173},
{"t":"2013-08-18 00","F":0.488,"O":0.17,"C":0.194,"Fm":0.484,"Om":0.1439,"Cm":0.1877},
{"t":"2013-08-18 06","F":0.4802,"O":0.091,"C":0.162},
{"t":"2013-08-18 12","F":0.4854,"O":0.158,"C":0.191,"Fm":0.4828,"Om":0.1432,"Cm":0.186},
{"t":"2013-08-18 18","F":0.478,"O":0.133,"C":0.174},
{"t":"2013-08-19 00","F":0.4866,"O":0.152,"C":0.192,"Fm":0.4818,"Om":0.1424,"Cm":0.185},
{"t":"2013-08-19 06","F":0.479,"O":0.128,"C":0.178},
{"t":"2013-08-19 12","F":0.4845,"O":0.154,"C":0.19,"Fm":0.483,"Om":0.1418,"Cm":0.1864},
{"t":"2013-08-19 18","F":0.4791,"O":0.13,"C":0.172},
{"t":"2013-08-20 00","F":0.4878,"O":0.158,"C":0.2,"Fm":0.4845,"Om":0.1416,"Cm":0.1868},
{"t":"2013-08-20 06","F":0.4796,"O":0.133,"C":0.176},
{"t":"2013-08-20 12","F":0.4871,"O":0.152,"C":0.193,"Fm":0.4828,"Om":0.1405,"Cm":0.1872},
{"t":"2013-08-20 18","F":0.4805,"O":0.128,"C":0.179},
{"t":"2013-08-21 00","F":0.4737,"O":0.151,"C":0.194,"Fm":0.482,"Om":0.1392,"Cm":0.1876},
{"t":"2013-08-21 06","F":0.4786,"O":0.127,"C":0.18},
{"t":"2013-08-21 12","F":0.4861,"O":0.152,"C":0.193,"Fm":0.481,"Om":0.138,"Cm":0.186},
{"t":"2013-08-21 18","F":0.4791,"O":0.13,"C":0.145},
{"t":"2013-08-22 00","F":0.479,"O":0.15,"C":0.189,"Fm":0.4745,"Om":0.1372,"Cm":0.183},
{"t":"2013-08-22 06","F":0.4703,"O":0.126,"C":0.153},
{"t":"2013-08-22 12","F":0.4744,"O":0.16,"C":0.187,"Fm":0.4715,"Om":0.1365,"Cm":0.1822},
{"t":"2013-08-22 18","F":0.4652,"O":0.127,"C":0.17},
{"t":"2013-08-23 00","F":0.4759,"O":0.146,"C":0.191,"Fm":0.4706,"Om":0.1358,"Cm":0.184},
{"t":"2013-08-23 06","F":0.4675,"O":0.122,"C":0.177},
{"t":"2013-08-23 12","F":0.4732,"O":0.147,"C":0.19,"Fm":0.4715,"Om":0.135,"Cm":0.186},
{"t":"2013-08-23 18","F":0.4672,"O":0.119,"C":0.172},
{"t":"2013-08-24 00","F":0.4796,"O":0.15,"C":0.191,"Fm":0.476,"Om":0.1344,"Cm":0.1855},
{"t":"2013-08-24 06","F":0.4705,"O":0.125,"C":0.174},
{"t":"2013-08-24 12","F":0.4826,"O":0.146,"C":0.148,"Fm":0.4778,"Om":0.1348,"Cm":0.1845},
{"t":"2013-08-24 18","F":0.4753,"O":0.122,"C":0.177},
{"t":"2013-08-25 00","F":0.4819,"O":0.149,"C":0.193,"Fm":0.477,"Om":0.1368,"Cm":0.1865},
{"t":"2013-08-25 06","F":0.4732,"O":0.125,"C":0.179},
{"t":"2013-08-25 12","F":0.4861,"O":0.153,"C":0.197,"Fm":0.4775,"Om":0.1385,"Cm":0.1895},
{"t":"2013-08-25 18","F":0.4754,"O":0.117,"C":0.2},
{"t":"2013-08-26 00","F":0.4847,"O":0.152,"C":0.196,"Fm":0.4802,"Om":0.1388,"Cm":0.1901},
{"t":"2013-08-26 06","F":0.476,"O":0.128,"C":0.181},
{"t":"2013-08-26 12","F":0.4814,"O":0.152,"C":0.194,"Fm":0.4785,"Om":0.1368,"Cm":0.1885},
{"t":"2013-08-26 18","F":0.4732,"O":0.127,"C":0.166},
{"t":"2013-08-27 00","F":0.4793,"O":0.167,"C":0.193,"Fm":0.474,"Om":0.1352,"Cm":0.186},
{"t":"2013-08-27 06","F":0.4709,"O":0.121,"C":0.179},
{"t":"2013-08-27 12","F":0.4697,"O":0.147,"C":0.157,"Fm":0.468,"Om":0.1345,"Cm":0.1845},
{"t":"2013-08-27 18","F":0.4637,"O":0.122,"C":0.171},
{"t":"2013-08-28 00","F":0.4701,"O":0.149,"C":0.19,"Fm":0.4665,"Om":0.133,"Cm":0.185},
{"t":"2013-08-28 06","F":0.461,"O":0.124,"C":0.174},
{"t":"2013-08-28 12","F":0.4706,"O":0.06,"C":0.192,"Fm":0.4658,"Om":0.1313,"Cm":0.186},
{"t":"2013-08-28 18","F":0.4633,"O":0.118,"C":0.158},
{"t":"2013-08-29 00","F":0.4709,"O":0.144,"C":0.191,"Fm":0.466,"Om":0.132,"Cm":0.185},
{"t":"2013-08-29 06","F":0.4622,"O":0.12,"C":0.177},
{"t":"2013-08-29 12","F":0.4719,"O":0.147,"C":0.154,"Fm":0.4662,"Om":0.1332,"Cm":0.1838},
{"t":"2013-08-29 18","F":0.4641,"O":0.113,"C":0.169},
{"t":"2013-08-30 00","F":0.47,"O":0.147,"C":0.188,"Fm":0.4655,"Om":0.1338,"Cm":0.1815},
{"t":"2013-08-30 06","F":0.4613,"O":0.107,"C":0.172},
{"t":"2013-08-30 12","F":0.4733,"O":0.149,"C":0.143,"Fm":0.4645,"Om":0.1336,"Cm":0.1792},
{"t":"2013-08-30 18","F":0.4592,"O":0.124,"C":0.167},
{"t":"2013-08-31 00","F":0.4691,"O":0.143,"C":0.19,"Fm":0.4638,"Om":0.1333,"Cm":0.1825},
{"t":"2013-08-31 06","F":0.4607,"O":0.119,"C":0.157},
{"t":"2013-08-31 12","F":0.4643,"O":0.145,"C":0.188,"Fm":0.4626,"Om":0.133,"Cm":0.1836},
{"t":"2013-08-31 18","F":0.4583,"O":0.121,"C":0.17},
{"t":"2013-09-01 00","F":0.466,"O":0.149,"C":0.188,"Fm":0.4624,"Om":0.1334,"Cm":0.1834},
{"t":"2013-09-01 06","F":0.4569,"O":0.124,"C":0.144},
{"t":"2013-09-01 12","F":0.4676,"O":0.157,"C":0.188,"Fm":0.4628,"Om":0.134,"Cm":0.1822},
{"t":"2013-09-01 18","F":0.4603,"O":0.06,"C":0.164},
{"t":"2013-09-02 00","F":0.4682,"O":0.146,"C":0.155,"Fm":0.4633,"Om":0.1342,"Cm":0.1796}
]},
"spacing":10,
"bounds":"flush",
"vconcat":[
{"width":1509,"height":307,
 "title":{"text":"F-18 Concentration\u00a0 [uCi/cc]","dy":44,"dx":34,"frame":"group"},
 "encoding":{
  "x":{"field":"t","type":"temporal","title":null,"scale":{"domain":[{"year":2013,"month":5,"date":10},{"year":2013,"month":9,"date":2,"hours":5}]},"axis":{"labels":false,"ticks":false,"grid":false,"domain":false}},
  "y":{"field":"F","type":"quantitative","title":null,"scale":{"domain":[0.46,0.5]},"axis":{"values":[0.46,0.465,0.47,0.475,0.48,0.485,0.49,0.495,0.5],"format":"~g","gridOpacity":{"condition":{"test":"datum.value >= 0.4999","value":0},"value":1}}}
 },
 "layer":[
  {"transform":[{"filter":"isValid(datum.Fm)"}],"mark":{"type":"line","color":"#4a7ebb","strokeWidth":34,"strokeJoin":"round","clip":true},"encoding":{"y":{"field":"Fm","type":"quantitative","title":null}}},
  {"mark":{"type":"line","color":"#4a7ebb","strokeWidth":3.5,"clip":true}},
  {"mark":{"type":"point","filled":true,"size":20,"opacity":1,"color":"#4a7ebb","clip":true}},
  {"transform":[{"filter":"isValid(datum.Fm)"}],"mark":{"type":"line","color":"#000000","strokeWidth":1.1,"clip":true},"encoding":{"y":{"field":"Fm","type":"quantitative","title":null}}}
 ]
},
{"width":1509,"height":310,
 "title":{"text":"O-19 concentration\u00a0 [uCi/cc]","dy":39,"dx":35,"frame":"group"},
 "encoding":{
  "x":{"field":"t","type":"temporal","title":null,"scale":{"domain":[{"year":2013,"month":5,"date":10},{"year":2013,"month":9,"date":2,"hours":5}]},"axis":{"labels":false,"ticks":false,"grid":false,"domain":true}},
  "y":{"field":"O","type":"quantitative","title":null,"scale":{"domain":[0.08,0.2]},"axis":{"values":[0.09,0.11,0.13,0.15,0.17,0.19],"format":"~g"}}
 },
 "layer":[
  {"transform":[{"filter":"isValid(datum.Om)"}],"mark":{"type":"line","color":"#4a7ebb","strokeWidth":46,"strokeJoin":"round","clip":true},"encoding":{"y":{"field":"Om","type":"quantitative","title":null}}},
  {"mark":{"type":"line","color":"#4a7ebb","strokeWidth":3.5,"clip":true}},
  {"mark":{"type":"point","filled":true,"size":20,"opacity":1,"color":"#4a7ebb","clip":true}},
  {"transform":[{"filter":"isValid(datum.Om)"}],"mark":{"type":"line","color":"#000000","strokeWidth":1.1,"clip":true},"encoding":{"y":{"field":"Om","type":"quantitative","title":null}}}
 ]
},
{"width":1509,"height":465,
 "title":{"text":"Co-58 Concentration\u00a0 [uCi/cc]","dy":48,"dx":45,"frame":"group"},
 "encoding":{
  "x":{"field":"t","type":"temporal","title":null,"scale":{"domain":[{"year":2013,"month":5,"date":10},{"year":2013,"month":9,"date":2,"hours":5}]},"axis":{"values":[{"year":2013,"month":5,"date":10},{"year":2013,"month":5,"date":30},{"year":2013,"month":6,"date":19},{"year":2013,"month":7,"date":9},{"year":2013,"month":7,"date":29},{"year":2013,"month":8,"date":18}],"format":"%-d-%b","grid":false,"tickSize":6,"labelPadding":8,"labelFontSize":16}},
  "y":{"field":"C","type":"quantitative","title":null,"scale":{"domain":[0.09,0.21]},"axis":{"values":[0.09,0.11,0.13,0.15,0.17,0.19,0.21],"format":"~g","gridOpacity":{"condition":{"test":"datum.value >= 0.2099","value":0},"value":1}}}
 },
 "layer":[
  {"transform":[{"filter":"isValid(datum.Cm)"}],"mark":{"type":"line","color":"#4a7ebb","strokeWidth":32,"strokeJoin":"round","clip":true},"encoding":{"y":{"field":"Cm","type":"quantitative","title":null}}},
  {"mark":{"type":"line","color":"#4a7ebb","strokeWidth":3.5,"clip":true}},
  {"mark":{"type":"point","filled":true,"size":20,"opacity":1,"color":"#4a7ebb","clip":true}},
  {"transform":[{"filter":"isValid(datum.Cm)"}],"mark":{"type":"line","color":"#000000","strokeWidth":1.1,"clip":true},"encoding":{"y":{"field":"Cm","type":"quantitative","title":null}}}
 ]
}
],
"config":{
 "view":{"stroke":null},
 "font":"DejaVu Sans",
 "axis":{"domainColor":"#868686","gridColor":"#868686","tickColor":"#868686","labelColor":"#262626","labelFont":"DejaVu Sans","labelFontSize":15,"labelOverlap":false,"labelFlush":false},
 "axisY":{"tickSize":8,"labelPadding":13,"grid":true,"domain":true},
 "title":{"font":"DejaVu Sans","fontSize":27,"fontWeight":"bold","color":"#000000","anchor":"middle"}
}
}
